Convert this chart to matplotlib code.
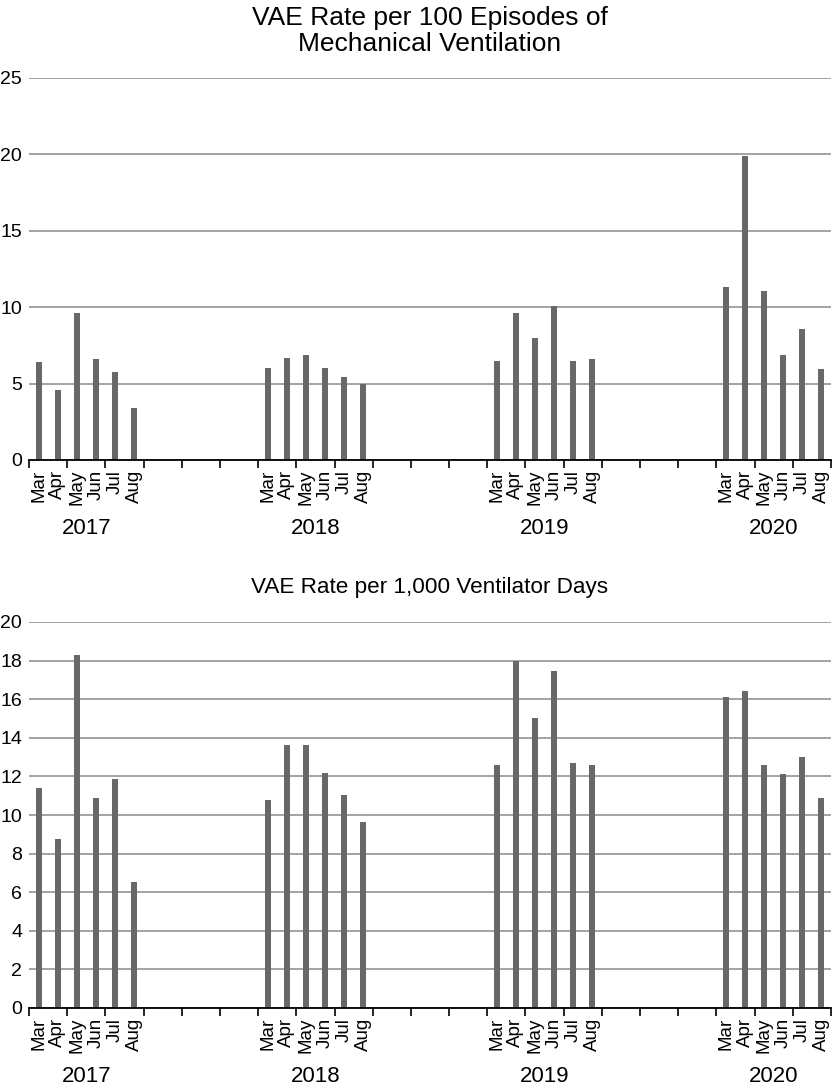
import matplotlib
matplotlib.use("Agg")
import matplotlib.pyplot as plt
import matplotlib.transforms as mtransforms
from matplotlib.ticker import FixedLocator, NullFormatter, FixedFormatter

plt.rcParams['font.family'] = ['Liberation Sans', 'DejaVu Sans']

months = ['Mar', 'Apr', 'May', 'Jun', 'Jul', 'Aug']
years = ['2017', '2018', '2019', '2020']

# VAE Rate per 100 Episodes of Mechanical Ventilation
episodes_2017 = [6.4, 4.6, 9.65, 6.6, 5.75, 3.4]
episodes_2018 = [6.0, 6.7, 6.9, 6.0, 5.45, 5.0]
episodes_2019 = [6.5, 9.65, 8.0, 10.05, 6.5, 6.6]
episodes_2020 = [11.35, 19.9, 11.05, 6.9, 8.6, 5.95]

# VAE Rate per 1,000 Ventilator Days
days_2017 = [11.4, 8.75, 18.3, 10.9, 11.85, 6.55]
days_2018 = [10.8, 13.65, 13.65, 12.2, 11.05, 9.65]
days_2019 = [12.6, 18.0, 15.05, 17.45, 12.7, 12.6]
days_2020 = [16.1, 16.4, 12.6, 12.15, 13.0, 10.9]

W, H = 832, 1087
panels = [
    dict(title='VAE Rate per 100 Episodes of\nMechanical Ventilation',
         series=[episodes_2017, episodes_2018, episodes_2019, episodes_2020],
         ymax=25, ystep=5, title_size=19, title_pad=19.5, top=78, bottom=460),
    dict(title='VAE Rate per 1,000 Ventilator Days',
         series=[days_2017, days_2018, days_2019, days_2020],
         ymax=20, ystep=2, title_size=16.2, title_pad=21, top=622, bottom=1008),
]

n_months_year = 12
n_cat = (len(years) - 1) * n_months_year + len(months)

fig = plt.figure(figsize=(W / 100, H / 100), dpi=100)
bar_color = '#686868'
grid_color = '#a3a3a3'
left_px, right_px = 29, 831

for p in panels:
    h_px = p['bottom'] - p['top']
    ax = fig.add_axes([left_px / W, 1 - p['bottom'] / H, (right_px - left_px) / W, h_px / H])
    xs, hs, labs = [], [], []
    for yi, vals in enumerate(p['series']):
        for mi, v in enumerate(vals):
            xs.append(yi * n_months_year + mi)
            hs.append(v)
            labs.append(months[mi])
    ax.bar(xs, hs, width=0.31, color=bar_color, zorder=3)
    ax.set_xlim(-0.5, n_cat - 0.5)
    ax.set_ylim(0, p['ymax'])
    yt = list(range(0, p['ymax'] + 1, p['ystep']))
    ax.set_yticks(yt)
    ax.set_yticklabels([str(t) for t in yt], fontsize=14)
    ax.tick_params(axis='y', length=0, pad=5)
    ax.yaxis.grid(True, color=grid_color, linewidth=1.4)
    ax.set_axisbelow(True)
    for s in ['left', 'right', 'top']:
        ax.spines[s].set_visible(False)
    ax.spines['bottom'].set_linewidth(1.3)
    ax.spines['bottom'].set_zorder(4)
    # major ticks every 2 categories at boundaries
    ax.xaxis.set_major_locator(FixedLocator([i - 0.5 for i in range(0, n_cat + 1, 2)]))
    ax.xaxis.set_major_formatter(NullFormatter())
    ax.tick_params(axis='x', which='major', direction='out', length=6, width=1.2)
    # month labels at category centers
    ax.xaxis.set_minor_locator(FixedLocator(xs))
    ax.xaxis.set_minor_formatter(FixedFormatter(labs))
    ax.tick_params(axis='x', which='minor', length=0, pad=7, labelsize=13.5,
                   labelrotation=90)
    trans = mtransforms.blended_transform_factory(ax.transData, ax.transAxes)
    for yi, yr in enumerate(years):
        cx = yi * n_months_year + (len(months) - 1) / 2
        ax.text(cx, -68 / h_px, yr, transform=trans, ha='center', va='center', fontsize=16)
    ax.set_title(p['title'], fontsize=p['title_size'], pad=p['title_pad'], linespacing=1.12)

fig.savefig('out.png', dpi=100)
